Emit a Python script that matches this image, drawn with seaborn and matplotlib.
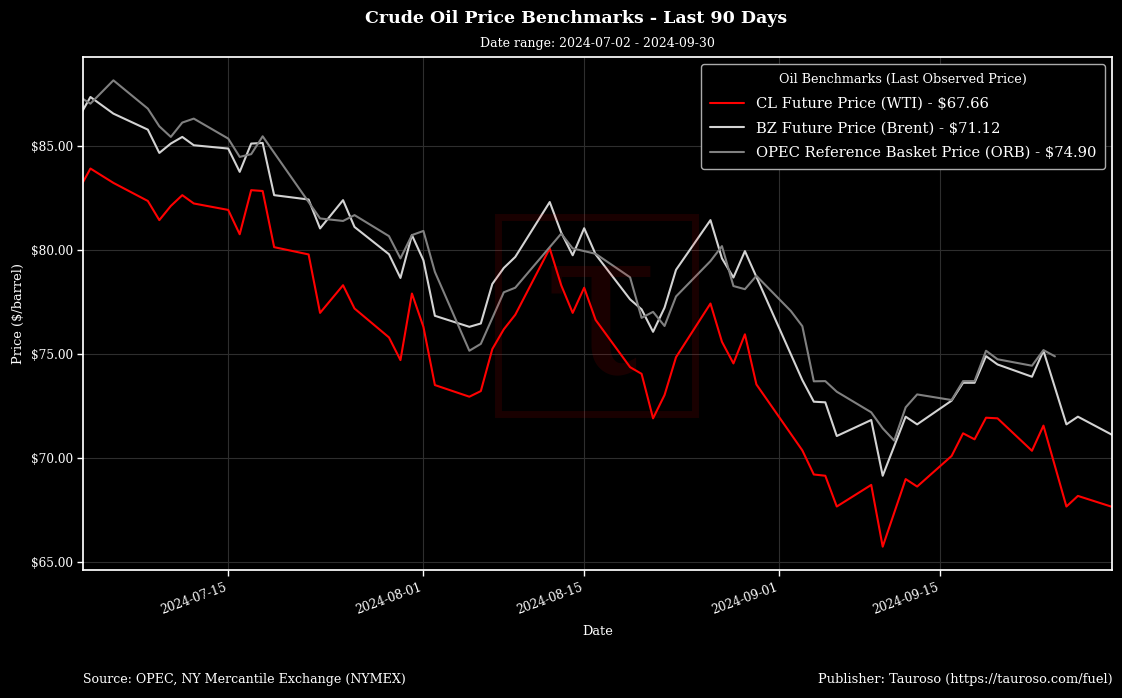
import pandas as pd
import seaborn as sns
import matplotlib.pyplot as plt
import matplotlib.dates as mdates
from matplotlib.patches import Rectangle
from matplotlib.ticker import FuncFormatter

# futures trading days (WTI and Brent share them)
futures_dates = [
    "2024-07-02", "2024-07-03", "2024-07-05", "2024-07-08", "2024-07-09",
    "2024-07-10", "2024-07-11", "2024-07-12", "2024-07-15", "2024-07-16",
    "2024-07-17", "2024-07-18", "2024-07-19", "2024-07-22", "2024-07-23",
    "2024-07-25", "2024-07-26", "2024-07-29", "2024-07-30", "2024-07-31",
    "2024-08-01", "2024-08-02", "2024-08-05", "2024-08-06", "2024-08-07",
    "2024-08-08", "2024-08-09", "2024-08-12", "2024-08-13", "2024-08-14",
    "2024-08-15", "2024-08-16", "2024-08-19", "2024-08-20", "2024-08-21",
    "2024-08-22", "2024-08-23", "2024-08-26", "2024-08-27", "2024-08-28",
    "2024-08-29", "2024-08-30", "2024-09-03", "2024-09-04", "2024-09-05",
    "2024-09-06", "2024-09-09", "2024-09-10", "2024-09-12", "2024-09-13",
    "2024-09-16", "2024-09-17", "2024-09-18", "2024-09-19", "2024-09-20",
    "2024-09-23", "2024-09-24", "2024-09-26", "2024-09-27", "2024-09-30",
]
wti_prices = [
    82.92, 83.93, 83.24, 82.37, 81.45, 82.13, 82.65, 82.25, 81.94, 80.77,
    82.89, 82.85, 80.15, 79.80, 76.99, 78.32, 77.20, 75.81, 74.72, 77.92,
    76.32, 73.52, 72.96, 73.23, 75.25, 76.20, 76.90, 80.09, 78.32, 76.99,
    78.20, 76.65, 74.38, 74.06, 71.92, 73.04, 74.86, 77.44, 75.60, 74.56,
    75.96, 73.55, 70.38, 69.22, 69.16, 67.68, 68.72, 65.75, 69.00, 68.64,
    70.11, 71.20, 70.91, 71.95, 71.92, 70.36, 71.57, 67.68, 68.19, 67.66,
]
brent_prices = [
    86.40, 87.37, 86.57, 85.80, 84.68, 85.13, 85.45, 85.05, 84.89, 83.77,
    85.13, 85.16, 82.65, 82.44, 81.05, 82.41, 81.12, 79.81, 78.67, 80.73,
    79.52, 76.85, 76.32, 76.48, 78.38, 79.15, 79.68, 82.32, 80.85, 79.76,
    81.06, 79.80, 77.64, 77.16, 76.08, 77.24, 79.06, 81.45, 79.61, 78.69,
    79.96, 78.72, 73.76, 72.72, 72.69, 71.07, 71.84, 69.16, 72.00, 71.63,
    72.77, 73.63, 73.63, 74.91, 74.51, 73.92, 75.17, 71.63, 72.00, 71.12,
]

opec_dates = [
    "2024-07-02", "2024-07-03", "2024-07-05", "2024-07-08", "2024-07-09",
    "2024-07-10", "2024-07-11", "2024-07-12", "2024-07-15", "2024-07-16",
    "2024-07-17", "2024-07-18", "2024-07-23", "2024-07-25", "2024-07-26",
    "2024-07-29", "2024-07-30", "2024-07-31", "2024-08-01", "2024-08-02",
    "2024-08-05", "2024-08-06", "2024-08-08", "2024-08-09", "2024-08-13",
    "2024-08-14", "2024-08-16", "2024-08-19", "2024-08-20", "2024-08-21",
    "2024-08-22", "2024-08-23", "2024-08-26", "2024-08-27", "2024-08-28",
    "2024-08-29", "2024-08-30", "2024-09-02", "2024-09-03", "2024-09-04",
    "2024-09-05", "2024-09-06", "2024-09-09", "2024-09-10", "2024-09-11",
    "2024-09-12", "2024-09-13", "2024-09-16", "2024-09-17", "2024-09-18",
    "2024-09-19", "2024-09-20", "2024-09-23", "2024-09-24", "2024-09-25",
]
opec_prices = [
    87.40, 87.05, 88.17, 86.81, 85.96, 85.45, 86.14, 86.33, 85.37, 84.49,
    84.62, 85.48, 81.53, 81.41, 81.69, 80.68, 79.61, 80.73, 80.93, 78.96,
    75.17, 75.50, 77.98, 78.20, 80.80, 80.09, 79.83, 78.70, 76.75, 77.04,
    76.36, 77.78, 79.48, 80.20, 78.28, 78.13, 78.77, 77.08, 76.35, 73.70,
    73.71, 73.20, 72.21, 71.44, 70.85, 72.45, 73.07, 72.80, 73.71, 73.71,
    75.17, 74.76, 74.45, 75.20, 74.90,
]

series = [
    ("CL Future Price (WTI)", futures_dates, wti_prices, "#ff0000"),
    ("BZ Future Price (Brent)", futures_dates, brent_prices, "#d3d3d3"),
    ("OPEC Reference Basket Price (ORB)", opec_dates, opec_prices, "#808080"),
]

sns.set_theme(style="darkgrid", rc={
    "figure.facecolor": "black",
    "axes.facecolor": "black",
    "axes.edgecolor": "white",
    "axes.linewidth": 1.25,
    "grid.color": "#2e2e2e",
    "grid.linewidth": 0.8,
    "text.color": "white",
    "axes.labelcolor": "white",
    "xtick.color": "white",
    "ytick.color": "white",
    "xtick.bottom": True,
    "ytick.left": True,
})
plt.rcParams["font.family"] = ["DejaVu Serif"]

frames = []
palette = {}
for name, dates, prices, color in series:
    label = f"{name} - ${prices[-1]:.2f}"
    palette[label] = color
    frames.append(pd.DataFrame({
        "Date": pd.to_datetime(dates),
        "Price": prices,
        "Benchmark": label,
    }))
df = pd.concat(frames, ignore_index=True)

fig, ax = plt.subplots(figsize=(11.22, 6.98), dpi=100)
fig.subplots_adjust(left=0.0742, right=0.9914, top=0.9183, bottom=0.1834)

sns.lineplot(data=df, x="Date", y="Price", hue="Benchmark",
             hue_order=list(palette), palette=palette,
             linewidth=1.5, ax=ax)

ax.set_xlim(pd.Timestamp("2024-07-02 09:00"), pd.Timestamp("2024-09-30"))
ax.xaxis.set_major_locator(mdates.DayLocator(bymonthday=[1, 15]))
ax.xaxis.set_major_formatter(mdates.DateFormatter("%Y-%m-%d"))
ax.yaxis.set_major_formatter(FuncFormatter(lambda v, _: f"${v:,.2f}"))
ax.tick_params(axis="both", labelsize=8.7, length=4, width=1, colors="white")
plt.setp(ax.get_xticklabels(), rotation=20, ha="right")

ax.set_xlabel("Date", fontsize=9.3, labelpad=6)
ax.set_ylabel("Price ($/barrel)", fontsize=9.3)
ax.set_title("Date range: 2024-07-02 - 2024-09-30", fontsize=9, pad=7,
             color="white")

leg = ax.legend(title="Oil Benchmarks (Last Observed Price)", loc="upper right",
                fontsize=10.6, title_fontsize=9.2, handlelength=2.3,
                labelspacing=0.72, borderpad=0.6,
                facecolor="black", edgecolor="#aaaaaa", framealpha=1)
for txt in leg.get_texts():
    txt.set_color("white")
leg.get_title().set_color("white")

# watermark
fig.add_artist(Rectangle((0.4438, 0.4068), 0.1755, 0.2822, transform=fig.transFigure,
                         fill=False, edgecolor="red", linewidth=5, alpha=0.1))
fig.text(0.535, 0.548, "τ", fontsize=150, color="red", alpha=0.1,
         ha="center", va="center", family="DejaVu Serif")

fig.suptitle("Crude Oil Price Benchmarks - Last 90 Days", fontsize=12.5,
             fontweight="bold", color="white", x=0.5134, y=0.974, va="center")
fig.text(0.0742, 0.027, "Source: OPEC, NY Mercantile Exchange (NYMEX)",
         fontsize=9.1, ha="left", va="center", color="white")
fig.text(0.9914, 0.027, "Publisher: Tauroso (https://tauroso.com/fuel)",
         fontsize=9.4, ha="right", va="center", color="white")

fig.savefig("out.png", dpi=100, facecolor="black")
